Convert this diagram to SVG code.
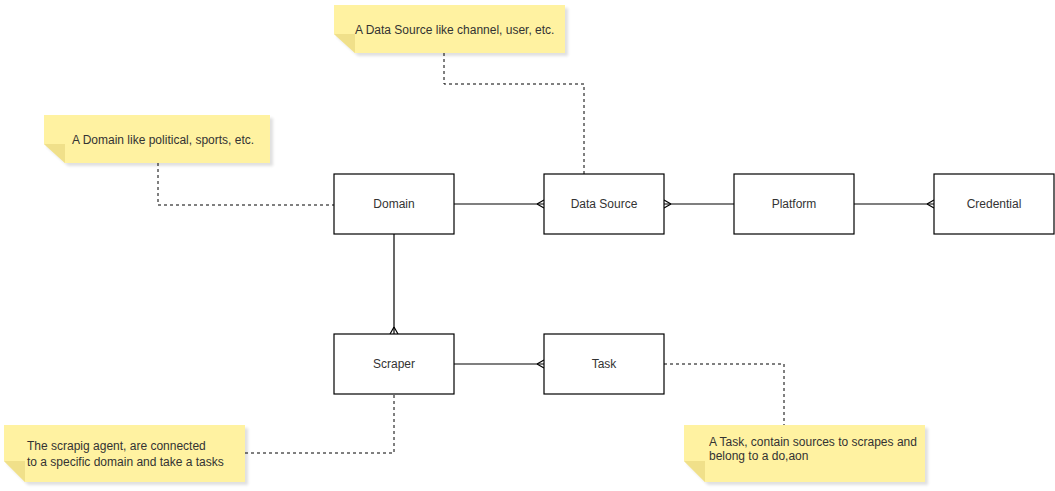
<svg xmlns="http://www.w3.org/2000/svg" width="1055" height="491" viewBox="0 0 1055 491">
<style>
.ent{fill:#fff;stroke:#000;stroke-width:1.2}
.lbl{font-family:"Liberation Sans",Arial,sans-serif;font-size:12px;fill:#333;text-anchor:middle;dominant-baseline:central}
.ntxt{font-family:"Liberation Sans",Arial,sans-serif;font-size:12px;fill:#333}
.note{fill:#fff2a1}
.fold{fill:#f0e08a}
.shadow{fill:#000;opacity:0.12}
.con{fill:none;stroke:#000;stroke-width:1.2}
.dash{fill:none;stroke:#000;stroke-width:1;stroke-dasharray:3 3}
</style>
<defs>
<filter id="blur" x="-10%" y="-20%" width="120%" height="140%"><feGaussianBlur stdDeviation="1.5"/></filter>
</defs>
<rect width="1055" height="491" fill="#fff"/>
<g id="connectors">
<path class="dash" d="M444 53V84H584V174"/>
<path class="dash" d="M158 163V205H334"/>
<path class="dash" d="M245 453H394V394"/>
<path class="dash" d="M664 364H784V425"/>
<path class="con" d="M454 204H544"/>
<path class="con" d="M537 204L544 200M537 204L544 208"/>
<path class="con" d="M664 204H734"/>
<path class="con" d="M671 204L664 200M671 204L664 208"/>
<path class="con" d="M854 204H934"/>
<path class="con" d="M927 204L934 200M927 204L934 208"/>
<path class="con" d="M394 234V334"/>
<path class="con" d="M394 327L390 334M394 327L398 334"/>
<path class="con" d="M454 364H544"/>
<path class="con" d="M537 364L544 360M537 364L544 368"/>
</g>
<g id="note-datasource">
<path class="shadow" filter="url(#blur)" d="M337 8H568V56H358L337 37Z"/>
<path class="note" d="M334 5H565V53H355L334 34Z"/>
<path class="fold" d="M334 34H355V53Z"/>
<text class="ntxt" x="355" y="34">A Data Source like channel, user, etc.</text>
</g>
<g id="note-domain">
<path class="shadow" filter="url(#blur)" d="M47 118H273V166H68L47 147Z"/>
<path class="note" d="M44 115H270V163H65L44 144Z"/>
<path class="fold" d="M44 144H65V163Z"/>
<text class="ntxt" x="72" y="144">A Domain like political, sports, etc.</text>
</g>
<g id="note-scraper">
<path class="shadow" filter="url(#blur)" d="M7 428H248V485H28L7 464Z"/>
<path class="note" d="M4 425H245V482H25L4 461Z"/>
<path class="fold" d="M4 461H25V482Z"/>
<text class="ntxt" x="27" y="450">The scrapig agent, are connected</text>
<text class="ntxt" x="27" y="466">to a specific domain and take a tasks</text>
</g>
<g id="note-task">
<path class="shadow" filter="url(#blur)" d="M687 428H928V485H708L687 464Z"/>
<path class="note" d="M684 425H925V482H705L684 461Z"/>
<path class="fold" d="M684 461H705V482Z"/>
<text class="ntxt" x="709" y="446">A Task, contain sources to scrapes and</text>
<text class="ntxt" x="709" y="460">belong to a do,aon</text>
</g>
<g id="domain"><rect class="ent" x="334" y="174" width="120" height="60"/><text class="lbl" x="394" y="204">Domain</text></g>
<g id="datasource"><rect class="ent" x="544" y="174" width="120" height="60"/><text class="lbl" x="604" y="204">Data Source</text></g>
<g id="platform"><rect class="ent" x="734" y="174" width="120" height="60"/><text class="lbl" x="794" y="204">Platform</text></g>
<g id="credential"><rect class="ent" x="934" y="174" width="120" height="60"/><text class="lbl" x="994" y="204">Credential</text></g>
<g id="scraper"><rect class="ent" x="334" y="334" width="120" height="60"/><text class="lbl" x="394" y="364">Scraper</text></g>
<g id="task"><rect class="ent" x="544" y="334" width="120" height="60"/><text class="lbl" x="604" y="364">Task</text></g>
</svg>
